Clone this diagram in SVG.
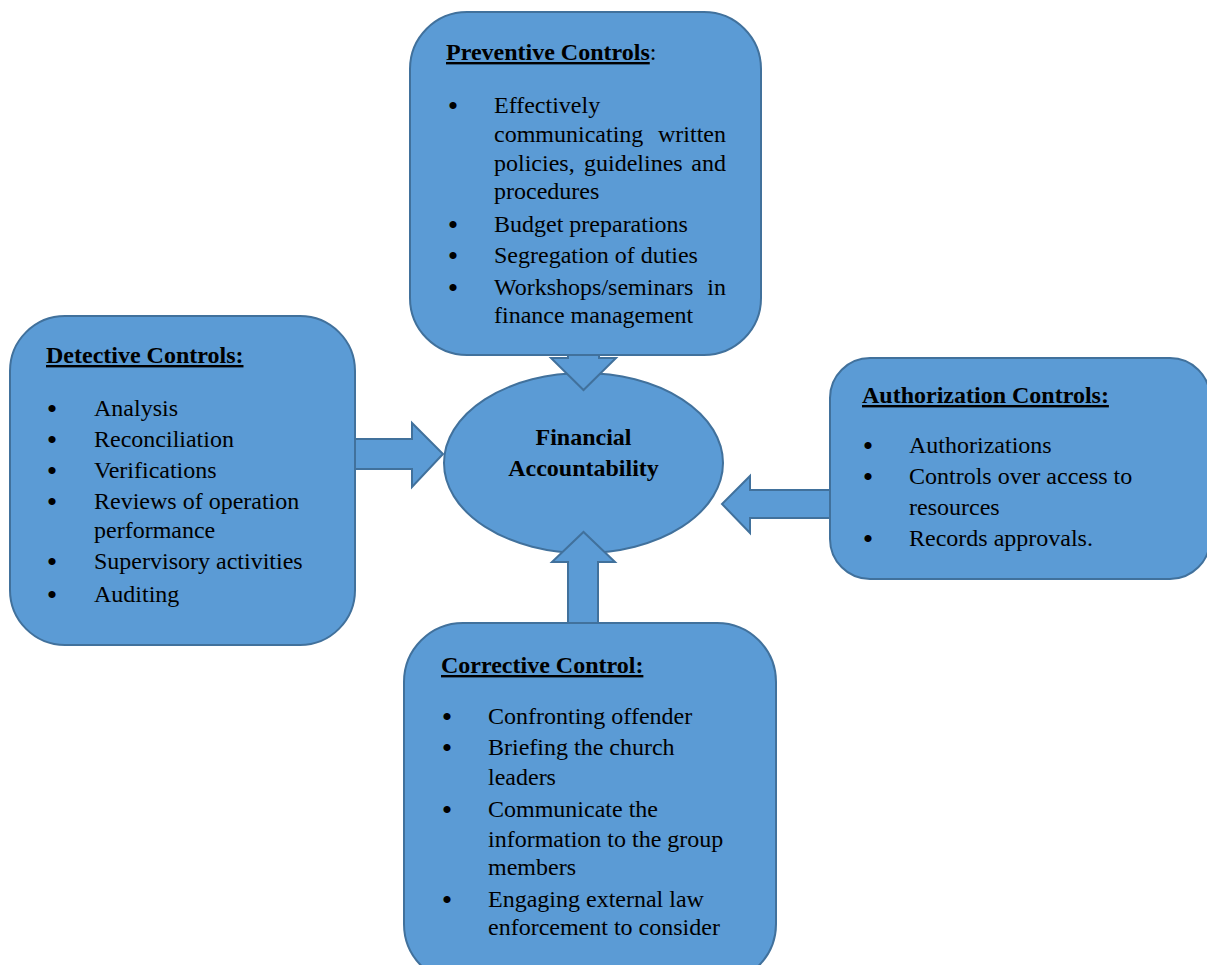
<svg xmlns="http://www.w3.org/2000/svg" width="1207" height="965" viewBox="0 0 1207 965">
<style>
.box{fill:#5B9BD5;stroke:#41719C;stroke-width:2}
.arr{fill:#5B9BD5;stroke:#41719C;stroke-width:2;stroke-linejoin:miter}
text{font-family:'Liberation Serif','Times New Roman',Tinos,'DejaVu Serif',serif;font-size:24px;fill:#000}
.h{font-weight:bold}
.u{text-decoration:underline}
.b{text-anchor:middle;font-size:30px}
.c{text-anchor:middle;font-weight:bold}
</style>
<rect width="1207" height="965" fill="#fff"/>
<g id="center">
<ellipse class="box" cx="583.5" cy="463" rx="139.5" ry="90"/>
<text class="c" x="583.5" y="445">Financial</text>
<text class="c" x="583.5" y="476">Accountability</text>
</g>
<g id="connectors">
<path class="arr" d="M568,340 H599 V358 H616 L583.5,390 L551,358 H568 Z"/>
<path class="arr" d="M340,439 V469 H412 V487 L443,454 L412,423 V439 Z"/>
<path class="arr" d="M845,490 V518 H750 V533 L722,504 L750,476 V490 Z"/>
<path class="arr" d="M568,640 V562 H552 L583.5,532 L615,562 H598 V640 Z"/>
</g>
<g id="preventive">
<rect class="box" x="410" y="12" width="351" height="343" rx="57" ry="57"/>
<text class="h" x="446" y="60"><tspan class="u">Preventive Controls</tspan><tspan font-weight="normal">:</tspan></text>
<text class="b" x="453" y="116">•</text>
<text x="494" y="113">Effectively</text>
<text x="494" y="142">communicating</text><text x="726" y="142" text-anchor="end">written</text>
<text x="494" y="171">policies,</text><text x="584" y="171">guidelines</text><text x="726" y="171" text-anchor="end">and</text>
<text x="494" y="199">procedures</text>
<text class="b" x="453" y="235">•</text>
<text x="494" y="232">Budget preparations</text>
<text class="b" x="453" y="266">•</text>
<text x="494" y="263">Segregation of duties</text>
<text class="b" x="453" y="298">•</text>
<text x="494" y="295">Workshops/seminars</text><text x="726" y="295" text-anchor="end">in</text>
<text x="494" y="323">finance management</text>
</g>
<g id="detective">
<rect class="box" x="10" y="316" width="345" height="329" rx="55" ry="55"/>
<text class="h u" x="46" y="363">Detective Controls:</text>
<text class="b" x="52" y="419">•</text><text x="94" y="416">Analysis</text>
<text class="b" x="52" y="450">•</text><text x="94" y="447">Reconciliation</text>
<text class="b" x="52" y="481">•</text><text x="94" y="478">Verifications</text>
<text class="b" x="52" y="512">•</text><text x="94" y="509">Reviews of operation</text>
<text x="94" y="538">performance</text>
<text class="b" x="52" y="572">•</text><text x="94" y="569">Supervisory activities</text>
<text class="b" x="52" y="605">•</text><text x="94" y="602">Auditing</text>
</g>
<g id="authorization">
<rect class="box" x="830" y="358" width="380" height="221" rx="40" ry="40"/>
<text class="h u" x="862" y="403">Authorization Controls:</text>
<text class="b" x="868" y="456">•</text><text x="909" y="453">Authorizations</text>
<text class="b" x="868" y="487">•</text><text x="909" y="484">Controls over access to</text>
<text x="909" y="515">resources</text>
<text class="b" x="868" y="549">•</text><text x="909" y="546">Records approvals.</text>
</g>
<g id="corrective">
<rect class="box" x="404" y="623" width="372" height="360" rx="59" ry="59"/>
<text class="h u" x="441" y="673">Corrective Control:</text>
<text class="b" x="447" y="727">•</text><text x="488" y="724">Confronting offender</text>
<text class="b" x="447" y="758">•</text><text x="488" y="755">Briefing the church</text>
<text x="488" y="785">leaders</text>
<text class="b" x="447" y="820">•</text><text x="488" y="817">Communicate the</text>
<text x="488" y="847">information to the group</text>
<text x="488" y="875">members</text>
<text class="b" x="447" y="910">•</text><text x="488" y="907">Engaging external law</text>
<text x="488" y="935">enforcement to consider</text>
</g>
</svg>
